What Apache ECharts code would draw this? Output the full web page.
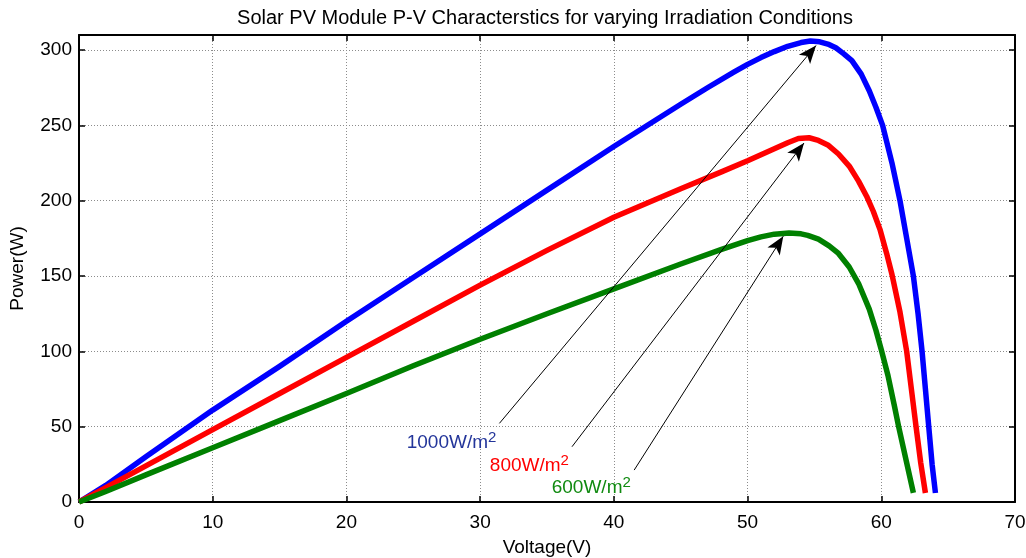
<!DOCTYPE html>
<html><head><meta charset="utf-8">
<script src="https://cdn.jsdelivr.net/npm/echarts@6/dist/echarts.min.js"></script>
<style>html,body{margin:0;padding:0;background:#fff}#c{width:1026px;height:558px}</style>
</head><body><div id="c"></div>
<script>
// ---- data (Voltage V, Power W) ----
const v1000 = [0, 2, 5, 10, 15, 20, 25, 30, 35, 40, 45, 47, 49, 50, 51, 52, 53, 54, 54.7, 55.4, 56, 56.6, 57.2, 57.8, 58.5, 59.1, 59.6, 60.1, 60.8, 61.4, 61.9, 62.4, 62.75, 63.05, 63.3, 63.55, 63.8, 64.05];
const p1000 = [0, 11, 30, 61, 90, 120, 149, 178, 207, 236, 264, 275, 285.5, 290.5, 295, 299, 302.5, 305, 306, 305.5, 304, 301.5, 297.5, 293, 284, 273, 262, 250, 225, 200, 175, 150, 125, 100, 75, 50, 25, 6];
const v800 = [0, 2, 5, 10, 15, 20, 25, 30, 35, 40, 45, 48, 50, 51, 52, 53, 53.8, 54.6, 55.3, 56, 56.8, 57.6, 58.3, 58.9, 59.4, 59.9, 60.4, 60.8, 61.4, 61.9, 62.25, 62.6, 62.95, 63.3];
const p800 = [0, 9.5, 24, 48, 72, 96, 120, 144, 167, 189, 208, 219, 226.5, 230.5, 234.5, 238.5, 241.3, 241.8, 240, 237, 231, 223, 213, 203, 193, 181, 165, 151, 126, 100, 75, 50, 26, 6];
const v600 = [0, 2, 5, 10, 15, 20, 25, 30, 35, 40, 45, 48, 50, 51, 52, 53.1, 54, 54.5, 55.3, 56.1, 56.8, 57.6, 58.3, 59.1, 59.6, 60.0, 60.5, 61.0, 61.3, 61.9, 62.4];
const p600 = [0, 7, 18, 36, 54, 72, 90.5, 108, 125, 141.5, 158, 167.5, 173.5, 176, 177.8, 178.6, 178, 177, 174.5, 170, 165, 156, 145, 128, 114, 101, 84, 63, 50, 26, 6];

const xTicks = [0, 10, 20, 30, 40, 50, 60, 70];
const yTicks = [0, 50, 100, 150, 200, 250, 300];

// annotation arrows: [startV, startP, endV, endP]
const arrow1000 = [31.44, 52.2, 55.12, 303];
const arrow800 = [36.87, 36.7, 54.22, 238.3];
const arrow600 = [41.52, 21.2, 52.67, 176.4];
// annotation label anchor (V, P) and text
const label1000 = [27.86, 39.1];
const label800 = [33.68, 23.9];
const label600 = [38.31, 9.3];
const labelTexts = ['1000W/m', '800W/m', '600W/m'];

const zip = (a, b) => a.map((x, i) => [x, b[i]]);
const FONT = 'Liberation Sans, Arial, sans-serif';

function lineSeries(name, v, p, color) {
  return {
    name, type: 'line', data: zip(v, p), showSymbol: false, symbol: 'none',
    smooth: false,
    lineStyle: { color, width: 5.5, join: 'round' }, itemStyle: { color }, z: 3, silent: true
  };
}
function arrowLine(a) {
  return [{ coord: [a[0], a[1]] }, { coord: [a[2], a[3]] }];
}
function labelSeries(pos, text, color) {
  return {
    type: 'scatter', data: [pos], symbolSize: 0, silent: true, z: 5,
    itemStyle: { opacity: 1, color },
    label: {
      show: true, position: 'inside', opacity: 1,
      formatter: '{b|' + text + '}{s|2}',
      rich: {
        b: { fontFamily: FONT, fontSize: 19, color, lineHeight: 22, opacity: 1 },
        s: { fontFamily: FONT, fontSize: 15, color, padding: [0, 0, 10, 0], opacity: 1 }
      }
    }
  };
}

const chart = echarts.init(document.getElementById('c'), null, { renderer: 'canvas' });
const gridLine = { show: true, lineStyle: { color: '#8c8c8c', type: [1, 2], width: 1 } };
const opt = {
  animation: false,
  backgroundColor: '#ffffff',
  title: {
    text: 'Solar PV Module P-V Characterstics for varying Irradiation Conditions',
    left: 540, top: 3, textAlign: 'center',
    textStyle: { fontFamily: FONT, fontSize: 20, fontWeight: 'normal', color: '#000' }
  },
  grid: { left: 79, right: 11, top: 35, bottom: 56, containLabel: false, outerBoundsMode: 'none' },
  xAxis: [{
    type: 'value', min: 0, max: 70, interval: 10,
    name: 'Voltage(V)', nameLocation: 'middle', nameGap: 36,
    nameTextStyle: { fontFamily: FONT, fontSize: 19, color: '#000' },
    axisLine: { show: true, onZero: false, lineStyle: { color: '#000', width: 2 } },
    axisTick: { show: true, inside: true, length: 6, lineStyle: { color: '#000', width: 1.5 } },
    axisLabel: { fontFamily: FONT, fontSize: 19, color: '#000', margin: 11,
      formatter: v => xTicks.includes(v) ? String(v) : '' },
    splitLine: gridLine
  }, {
    type: 'value', min: 0, max: 70, interval: 10, position: 'top',
    axisLine: { show: true, onZero: false, lineStyle: { color: '#000', width: 2 } },
    axisTick: { show: true, inside: true, length: 6, lineStyle: { color: '#000', width: 1.5 } },
    axisLabel: { show: false }, splitLine: { show: false }
  }],
  yAxis: [{
    type: 'value', min: 0, max: 310, interval: 50,
    name: 'Power(W)', nameLocation: 'middle', nameGap: 52, nameRotate: 90,
    nameTextStyle: { fontFamily: FONT, fontSize: 19, color: '#000' },
    axisLine: { show: true, onZero: false, lineStyle: { color: '#000', width: 2 } },
    axisTick: { show: true, inside: true, length: 6, lineStyle: { color: '#000', width: 1.5 } },
    axisLabel: { fontFamily: FONT, fontSize: 19, color: '#000', margin: 7,
      formatter: v => yTicks.includes(v) ? String(v) : '' },
    splitLine: gridLine
  }, {
    type: 'value', min: 0, max: 310, interval: 50, position: 'right',
    axisLine: { show: true, onZero: false, lineStyle: { color: '#000', width: 2 } },
    axisTick: { show: true, inside: true, length: 6, lineStyle: { color: '#000', width: 1.5 } },
    axisLabel: { show: false }, splitLine: { show: false }
  }],
  series: [
    lineSeries('1000', v1000, p1000, '#0000ff'),
    lineSeries('800', v800, p800, '#ff0000'),
    lineSeries('600', v600, p600, '#008000'),
    {
      type: 'line', data: [], silent: true, z: 4,
      markLine: {
        silent: true, animation: false,
        symbol: ['none', 'arrow'], symbolSize: [11, 18],
        label: { show: false },
        lineStyle: { color: '#000', width: 1, type: 'solid' },
        itemStyle: { color: '#000' },
        data: [arrowLine(arrow1000), arrowLine(arrow800), arrowLine(arrow600)]
      }
    },
    labelSeries(label1000, labelTexts[0], '#23359a'),
    labelSeries(label800, labelTexts[1], '#ff0000'),
    labelSeries(label600, labelTexts[2], '#108a10')
  ]
};
chart.setOption(opt);
</script>
</body></html>
